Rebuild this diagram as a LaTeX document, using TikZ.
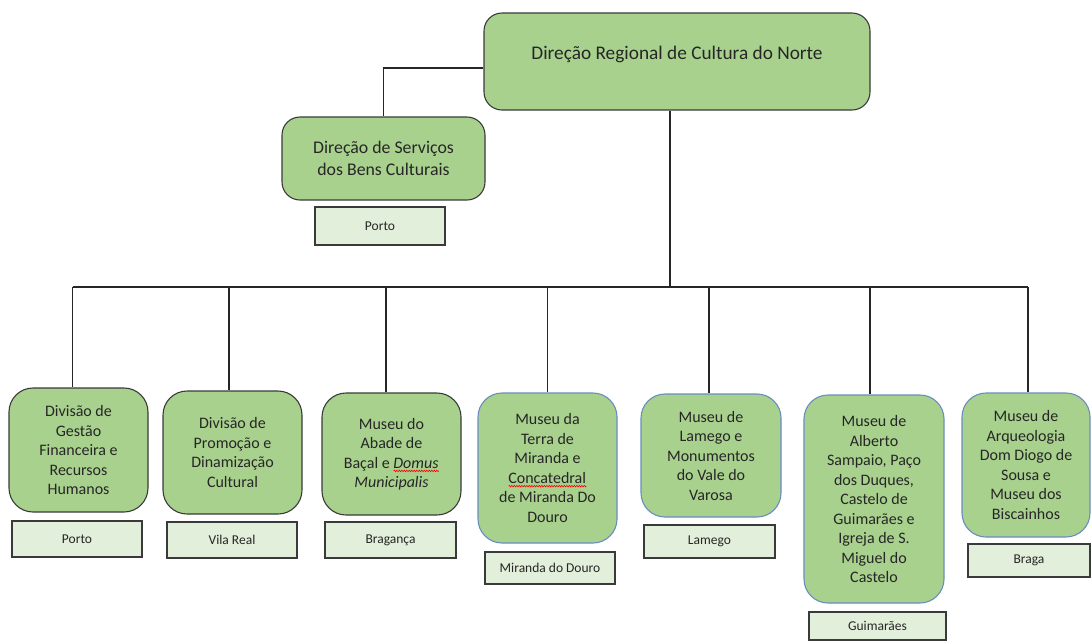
\documentclass[tikz,border=0pt]{standalone}
\usepackage{fontspec}
\setmainfont{Carlito}
\usetikzlibrary{decorations.pathmorphing}
\newlength\wavelen
\newcommand\redwave[1]{\settowidth\wavelen{#1}\rlap{#1}\raisebox{-4pt}[0pt][0pt]{\tikz[x=1pt,y=1pt,sharp corners]\draw[red, line width=0.6pt, sharp corners, decorate, decoration={zigzag, amplitude=0.8pt, segment length=2.5pt}] (0,0) -- (\wavelen,0);}}
\definecolor{boxgreen}{HTML}{A9D18E}
\definecolor{placegreen}{HTML}{E2EFDA}
\definecolor{boxblue}{HTML}{6A8CBE}
\definecolor{edge}{HTML}{3A3A3A}
\tikzset{
  org/.style={draw=edge, fill=boxgreen, rounded corners=24pt, line width=1.1pt,
    align=center, inner sep=0pt, font=\fontsize{16}{19.5}\selectfont, text=black!85},
  orgblue/.style={org, draw=boxblue},
  headbox/.style={org, rounded corners=18pt},
  place/.style={draw=edge, fill=placegreen, line width=1.1pt, inner sep=0pt,
    font=\fontsize{13.5}{16}\selectfont, text=black!85},
  conn/.style={line width=1.1pt, draw=black!85},
}
\begin{document}
\begin{tikzpicture}[x=1pt,y=-1pt]
\useasboundingbox (0,0) rectangle (1091,641);
% top level
\node[headbox, minimum width=386pt, minimum height=97pt, inner ysep=0pt,
  text height=46.5pt, text depth=50.5pt, font=\fontsize{19.3}{23}\selectfont]
  (top) at (677,61.5) {Direção Regional de Cultura do Norte};
\node[headbox, minimum width=203pt, minimum height=83pt, font=\fontsize{17.8}{21.5}\selectfont]
  (dsbc) at (383.5,158.5) {Direção de Serviços\\dos Bens Culturais};
\node[place, minimum width=130pt, minimum height=38pt] (p0) at (380,226) {Porto};
\draw[conn] ([yshift=-6.5pt]top.west) -| (dsbc.north);

% bottom row
\node[org, minimum width=139pt, minimum height=124pt] (b1) at (78.5,450)
  {Divisão de\\Gestão\\Financeira e\\Recursos\\Humanos};
\node[place, minimum width=130pt, minimum height=36pt] (p1) at (77,539) {Porto};

\node[org, minimum width=139pt, minimum height=123pt] (b2) at (232.5,452.5)
  {Divisão de\\Promoção e\\Dinamização\\Cultural};
\node[place, minimum width=130pt, minimum height=36pt] (p2) at (232,540) {Vila Real};

\node[org, minimum width=139pt, minimum height=122pt] (b3) at (391.5,454)
  {Museu do\\Abade de\\Baçal e \redwave{\textit{Domus}}\\\textit{Municipalis}};
\node[place, minimum width=131pt, minimum height=36pt] (p3) at (390.5,540) {Bragança};

\node[orgblue, minimum width=139pt, minimum height=150pt] (b4) at (547.5,468)
  {Museu da\\Terra de\\Miranda e\\\redwave{Concatedral}\\de Miranda Do\\Douro};
\node[place, minimum width=130pt, minimum height=32pt] (p4) at (550,568) {Miranda do Douro};

\node[orgblue, minimum width=140pt, minimum height=123pt] (b5) at (711,455.5)
  {Museu de\\Lamego e\\Monumentos\\do Vale do\\Varosa};
\node[place, minimum width=131pt, minimum height=33pt] (p5) at (709.5,541.5) {Lamego};

\node[orgblue, minimum width=140pt, minimum height=208pt] (b6) at (874,499)
  {Museu de\\Alberto\\Sampaio, Paço\\dos Duques,\\Castelo de\\Guimarães e\\Igreja de S.\\Miguel do\\Castelo};
\node[place, minimum width=137pt, minimum height=28pt] (p6) at (877.5,626) {Guimarães};

\node[orgblue, minimum width=128pt, minimum height=144pt] (b7) at (1026,465)
  {Museu de\\Arqueologia\\Dom Diogo de\\Sousa e\\Museu dos\\Biscainhos};
\node[place, minimum width=122pt, minimum height=33pt] (p7) at (1029,560.5) {Braga};

% bus
\coordinate (hub) at (670,287);
\coordinate (d1) at (72.6,287);
\coordinate (d2) at (229,287);
\coordinate (d3) at (386,287);
\coordinate (d4) at (547.5,287);
\coordinate (d5) at (709,287);
\coordinate (d6) at (870,287);
\coordinate (d7) at (1028,287);
\draw[conn] (top.south -| hub) -- (hub);
\draw[conn] (d1) -- (d7);
\foreach \i in {1,...,7} {
  \draw[conn] (d\i) -- (d\i |- b\i.north);
}
\end{tikzpicture}
\end{document}
